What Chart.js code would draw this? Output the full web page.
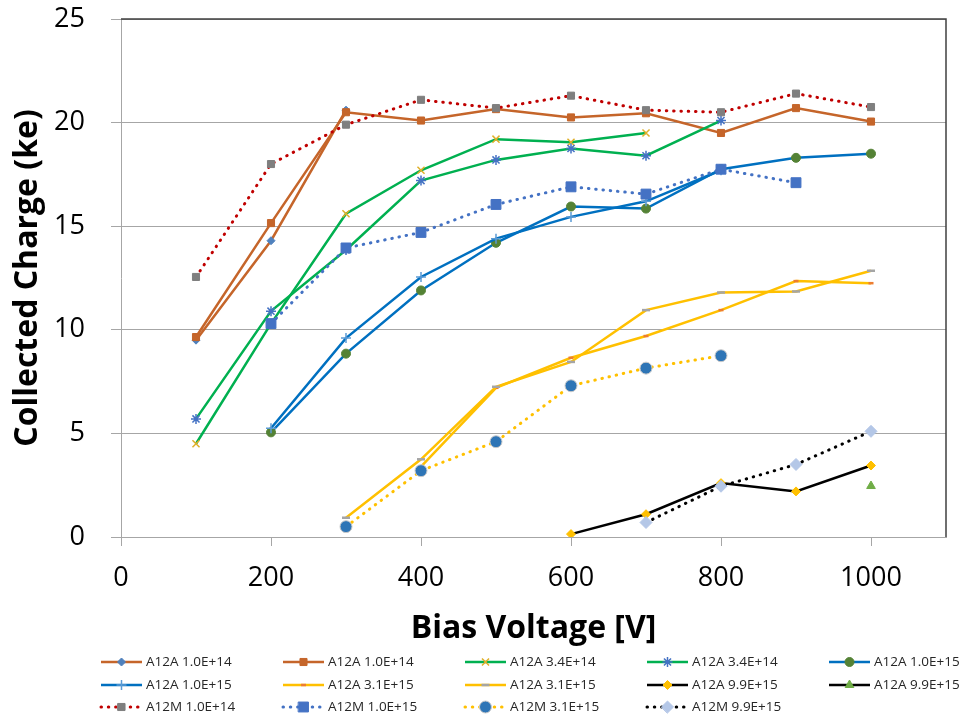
<!DOCTYPE html>
<html>
<head>
<meta charset="utf-8">
<script src="https://cdn.jsdelivr.net/npm/chart.js@4"></script>
<style>
  body { margin: 0; background: #fff; }
  #wrap { width: 959px; height: 717px; position: relative; }
</style>
</head>
<body>
<div id="wrap"><canvas id="chargeChart"></canvas></div>
<script>
// bias voltages [V]
const voltages = [100, 200, 300, 400, 500, 600, 700, 800, 900, 1000];
const xTicks = [0, 200, 400, 600, 800, 1000];
const yTicks = [0, 5, 10, 15, 20, 25];

// collected charge [ke], null = not measured
const a12a_1e14_d = [9.5, 14.3, 20.6, null, null, null, null, null, null, null];
const a12a_1e14_s = [9.65, 15.15, 20.5, 20.1, 20.65, 20.25, 20.45, 19.5, 20.7, 20.05];
const a12a_34e14_x = [4.5, 10.3, 15.6, 17.7, 19.2, 19.05, 19.5, null, null, null];
const a12a_34e14_a = [5.7, 10.9, 13.85, 17.2, 18.2, 18.75, 18.4, 20.1, null, null];
const a12a_1e15_c = [null, 5.05, 8.85, 11.9, 14.2, 15.95, 15.85, 17.75, 18.3, 18.5];
const a12a_1e15_p = [null, 5.25, 9.6, 12.55, 14.4, 15.45, 16.2, 17.7, null, null];
const a12a_31e15_o = [null, null, null, 3.4, 7.2, 8.65, 9.7, 10.95, 12.35, 12.25];
const a12a_31e15_g = [null, null, 0.93, 3.75, 7.25, 8.45, 10.95, 11.8, 11.85, 12.85];
const a12a_99e15_d = [null, null, null, null, null, 0.14, 1.1, 2.6, 2.2, 3.45];
const a12a_99e15_t = [null, null, null, null, null, null, null, null, null, 2.46];
const a12m_1e14 = [12.55, 18.0, 19.9, 21.1, 20.7, 21.3, 20.6, 20.5, 21.4, 20.75];
const a12m_1e15 = [null, 10.3, 13.95, 14.7, 16.05, 16.9, 16.55, 17.75, 17.1, null];
const a12m_31e15 = [null, null, 0.5, 3.2, 4.6, 7.3, 8.15, 8.75, null, null];
const a12m_99e15 = [null, null, null, null, null, null, 0.7, 2.45, 3.5, 5.1];

const FONT = "'Open Sans', sans-serif";
const DOTS = [0.5, 6.8];

function series(label, values, line, marker) {
  return {
    label,
    data: voltages.map((v, i) => ({ x: v, y: values[i] })).filter(p => p.y !== null),
    borderColor: line.color,
    borderWidth: line.width || 2.5,
    borderDash: line.dash || [],
    borderCapStyle: line.dash ? "round" : "butt",
    pointStyle: marker.style,
    pointRadius: marker.r,
    pointBackgroundColor: marker.fill,
    pointBorderColor: marker.border || marker.fill,
    pointBorderWidth: marker.bw || 1,
    tension: 0,
    fill: false,
  };
}

const datasets = [
  series("A12A 1.0E+14", a12a_1e14_d, { color: "#C5652A" }, { style: "rectRot", r: 4, fill: "#4F81BD" }),
  series("A12A 1.0E+14", a12a_1e14_s, { color: "#C5652A" }, { style: "rect", r: 5, fill: "#C5652A" }),
  series("A12A 3.4E+14", a12a_34e14_x, { color: "#00B050" }, { style: "crossRot", r: 5, fill: "#E0B02A", bw: 1.5 }),
  series("A12A 3.4E+14", a12a_34e14_a, { color: "#00B050" }, { style: "star", r: 5, fill: "#4472C4", bw: 1.5 }),
  series("A12A 1.0E+15", a12a_1e15_c, { color: "#0070C0" }, { style: "circle", r: 4.5, fill: "#548235" }),
  series("A12A 1.0E+15", a12a_1e15_p, { color: "#0070C0" }, { style: "cross", r: 5, fill: "#5B9BD5", bw: 1.5 }),
  series("A12A 3.1E+15", a12a_31e15_o, { color: "#FFC000" }, { style: "line", r: 2.5, fill: "#ED7D31", bw: 2.5 }),
  series("A12A 3.1E+15", a12a_31e15_g, { color: "#FFC000" }, { style: "line", r: 4, fill: "#A5A5A5", bw: 2.5 }),
  series("A12A 9.9E+15", a12a_99e15_d, { color: "#000000" }, { style: "rectRot", r: 4.5, fill: "#FFC000" }),
  series("A12A 9.9E+15", a12a_99e15_t, { color: "#000000" }, { style: "triangle", r: 5, fill: "#70AD47" }),
  series("A12M 1.0E+14", a12m_1e14, { color: "#C00000", width: 3, dash: DOTS }, { style: "rect", r: 5, fill: "#7F7F7F" }),
  series("A12M 1.0E+15", a12m_1e15, { color: "#4472C4", width: 3, dash: DOTS }, { style: "rect", r: 7, fill: "#4472C4" }),
  series("A12M 3.1E+15", a12m_31e15, { color: "#FFC000", width: 3, dash: DOTS }, { style: "circle", r: 6, fill: "#2E75B6", border: "#C9C9C9", bw: 1 }),
  series("A12M 9.9E+15", a12m_99e15, { color: "#000000", width: 3, dash: DOTS }, { style: "rectRot", r: 6, fill: "#B4C7E7" }),
];
// later series on top, like the original spreadsheet
datasets.forEach((d, i) => (d.order = datasets.length - i));

// dark top/right frame of plot area
const frame = {
  id: "frame",
  beforeDatasetsDraw(chart) {
    const { ctx, chartArea: a } = chart;
    ctx.save();
    ctx.strokeStyle = "#404040";
    ctx.lineWidth = 1.5;
    ctx.beginPath();
    ctx.moveTo(a.left, a.top);
    ctx.lineTo(a.right, a.top);
    ctx.lineTo(a.right, a.bottom);
    ctx.stroke();
    ctx.restore();
  },
};

// grid legend, 5 columns, line + marker like the original
const gridLegend = {
  id: "gridLegend",
  afterDraw(chart) {
    const ctx = chart.ctx;
    const rows = [662, 685, 707];
    chart.data.datasets.forEach((ds, i) => {
      const x0 = 101 + (i % 5) * 182;
      const y = rows[Math.floor(i / 5)];
      ctx.save();
      ctx.strokeStyle = ds.borderColor;
      ctx.lineWidth = ds.borderWidth;
      ctx.setLineDash(ds.borderDash);
      ctx.lineCap = ds.borderCapStyle;
      ctx.beginPath();
      ctx.moveTo(x0, y);
      ctx.lineTo(x0 + 41, y);
      ctx.stroke();
      ctx.setLineDash([]);
      ctx.fillStyle = ds.pointBackgroundColor;
      ctx.strokeStyle = ds.pointBorderColor;
      ctx.lineWidth = ds.pointBorderWidth;
      Chart.helpers.drawPoint(ctx, { pointStyle: ds.pointStyle, radius: ds.pointRadius, rotation: 0, borderWidth: ds.pointBorderWidth }, x0 + 20.5, y);
      ctx.fillStyle = "#262626";
      ctx.font = "13.5px " + FONT;
      ctx.textBaseline = "middle";
      ctx.fillText(ds.label, x0 + 45, y + 0.5);
      ctx.restore();
    });
  },
};

new Chart(document.getElementById("chargeChart"), {
  type: "line",
  data: { datasets },
  plugins: [frame, gridLegend],
  options: {
    responsive: true,
    maintainAspectRatio: false,
    animation: false,
    layout: { padding: { left: 0, top: 19, right: 13, bottom: 67 } },
    plugins: { legend: { display: false }, tooltip: { enabled: false } },
    scales: {
      x: {
        type: "linear",
        min: 0,
        max: 1100,
        afterBuildTicks: (s) => { s.ticks = xTicks.map((v) => ({ value: v })); },
        afterFit: (s) => { s.height = 113; },
        grid: { drawOnChartArea: false, color: "#A6A6A6", tickLength: 9 },
        border: { color: "#A6A6A6", width: 1 },
        ticks: { color: "#000", font: { family: FONT, size: 27 }, padding: 16, maxRotation: 0, callback: (v) => String(v) },
        title: { display: true, text: "Bias Voltage [V]", color: "#000", font: { family: FONT, size: 32, weight: "bold" }, padding: { top: 0, bottom: 2 } },
      },
      y: {
        min: 0,
        max: 25,
        afterBuildTicks: (s) => { s.ticks = yTicks.map((v) => ({ value: v })); },
        afterFit: (s) => { s.width = 121; s.paddingTop = 0; s.paddingBottom = 0; },
        grid: { color: "#A6A6A6", tickLength: 10 },
        border: { color: "#A6A6A6", width: 1 },
        ticks: { color: "#000", font: { family: FONT, size: 27 }, padding: 26 },
        title: { display: true, text: "Collected Charge (ke)", color: "#000", font: { family: FONT, size: 32, weight: "bold" }, padding: { top: 9, bottom: 0 } },
      },
    },
  },
});
</script>
</body>
</html>
